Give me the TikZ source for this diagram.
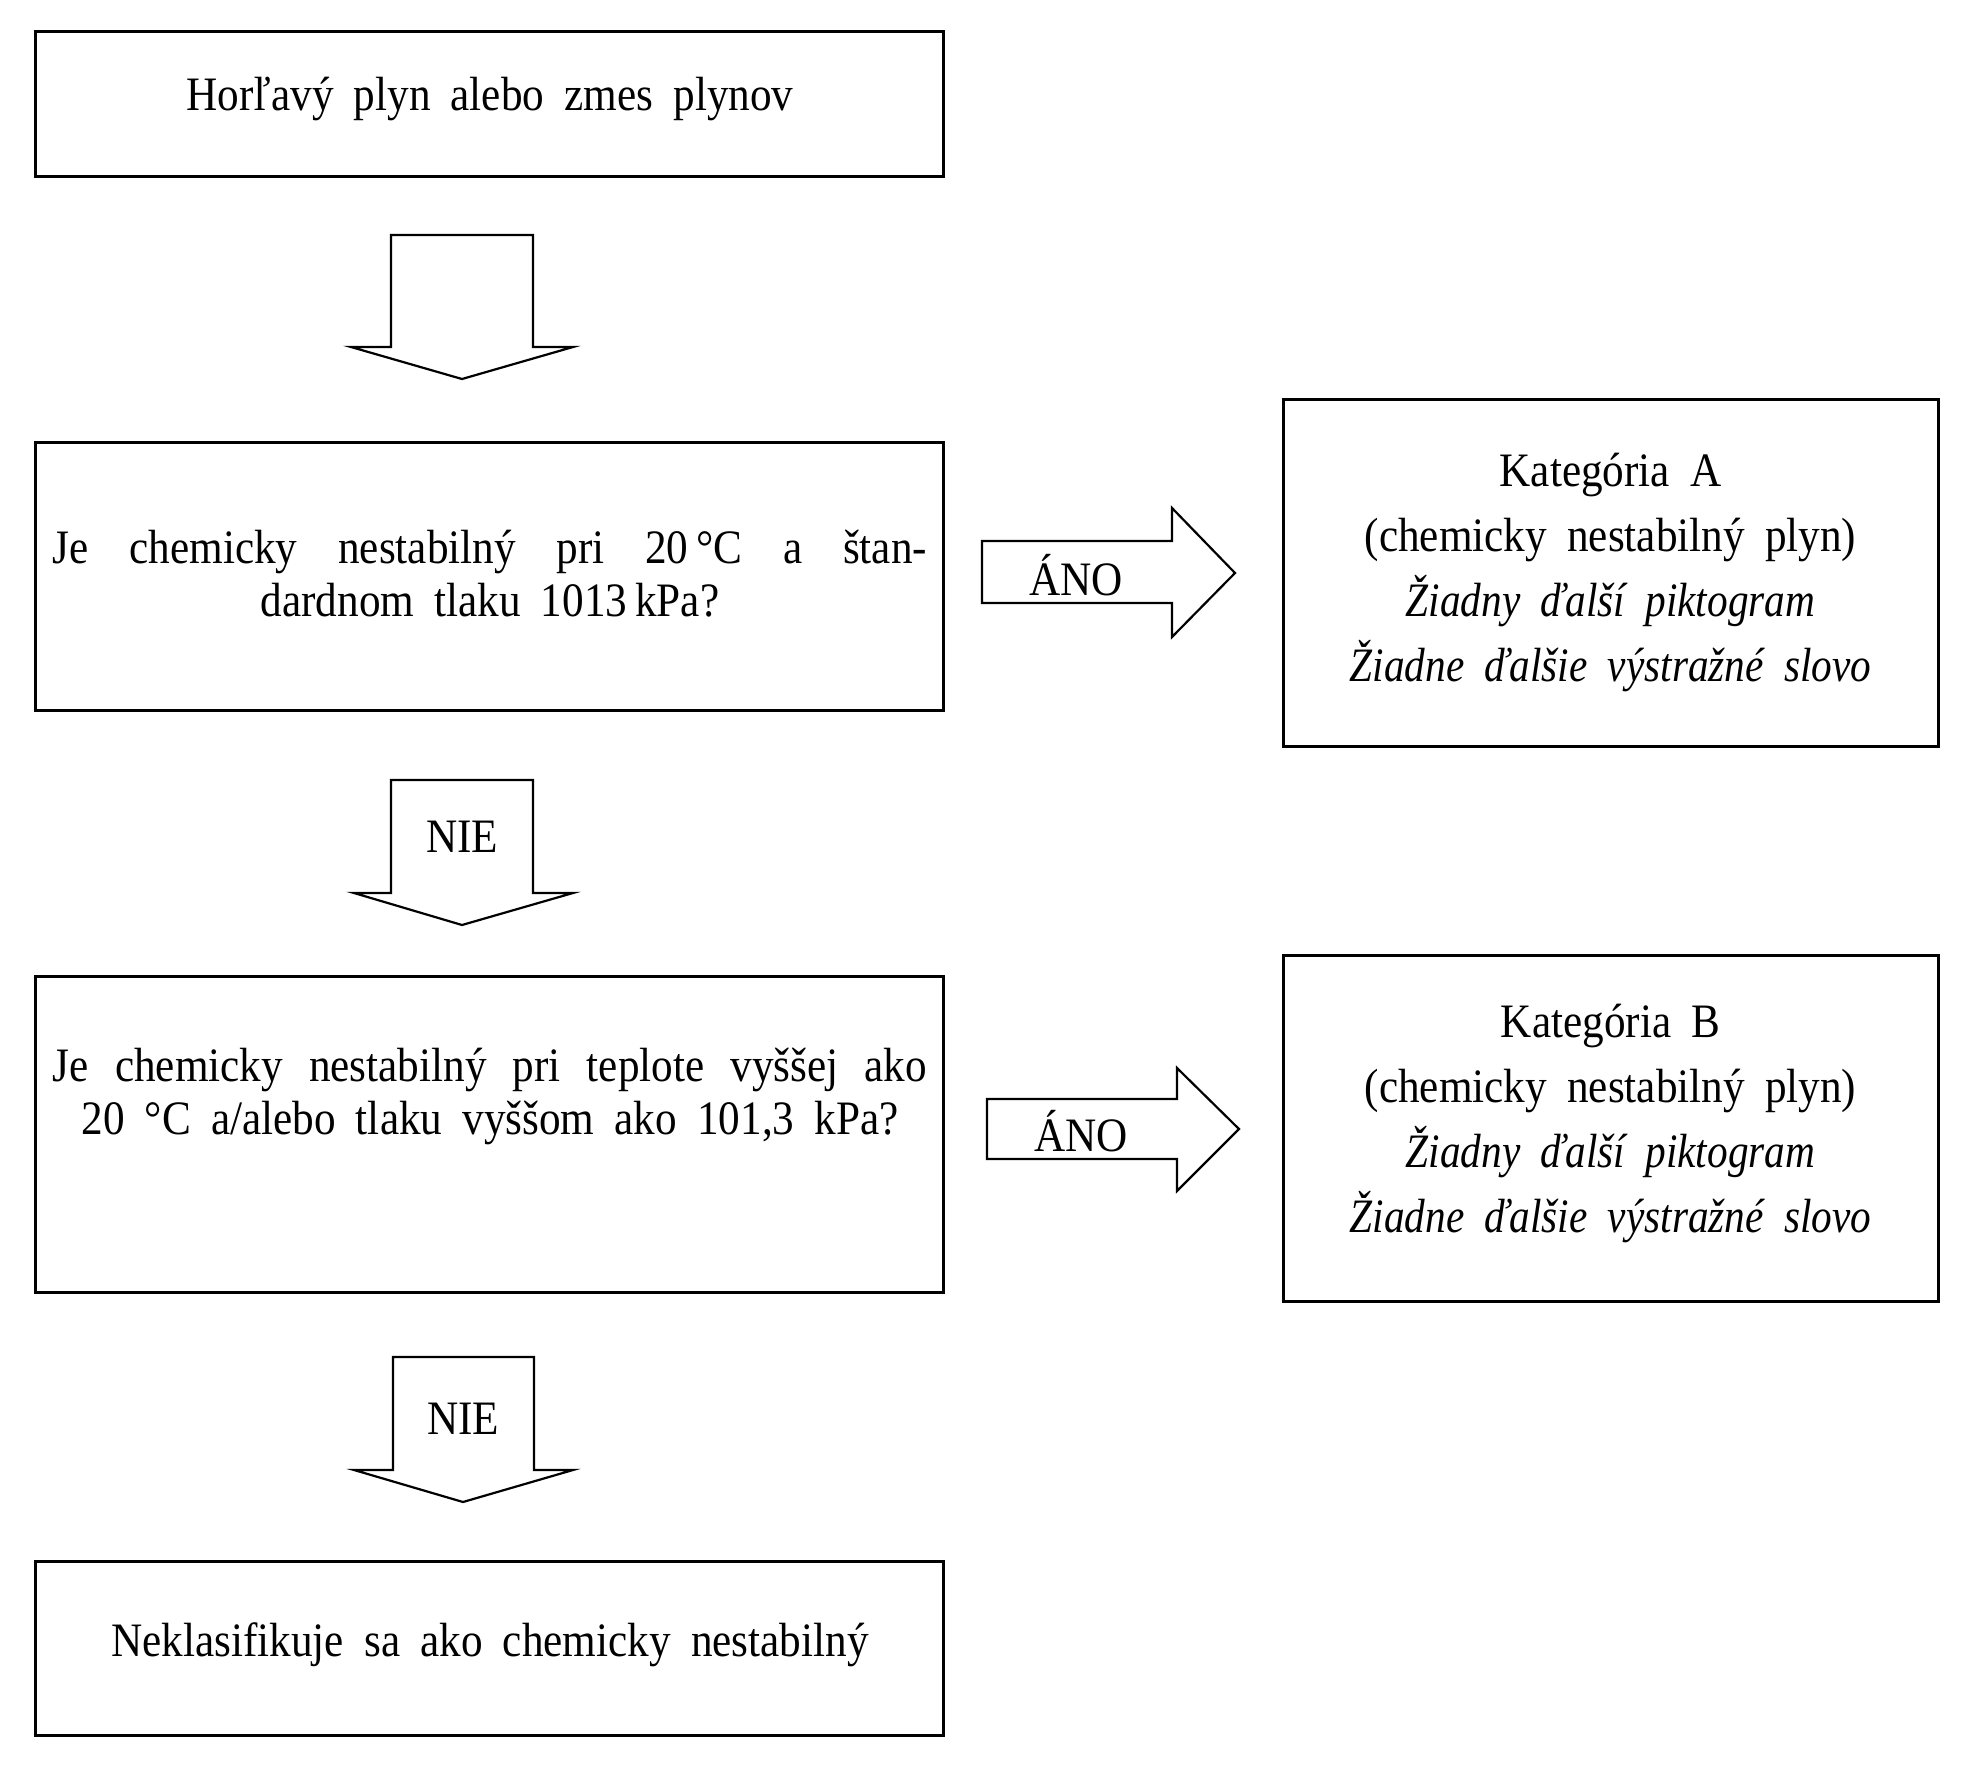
\documentclass[tikz,border=0pt]{standalone}
\usepackage{fontspec}
\setmainfont{Liberation Serif}[FakeStretch=0.9,ItalicFeatures={FakeStretch=0.86}]
\newcommand\mywordspace{\spaceskip=0.42em plus 0.2em\relax}
\begin{document}
\begin{tikzpicture}[x=0.5pt,y=-0.5pt,
  box/.style={draw,line width=1.5pt,inner sep=0pt},
  blockarrow/.style={draw,line width=1.1pt,line join=miter},
  txt/.style={font=\fontsize{24}{26.5}\selectfont\mywordspace,inner sep=0pt,align=center},
  cattxt/.style={font=\fontsize{24}{32.5}\selectfont\mywordspace,inner sep=0pt,align=center},
]
\useasboundingbox (0,0) rectangle (1967,1783);

% boxes
\node[box,minimum width=454pt,minimum height=72.5pt] (b1) at (489,103.5) {};
\node[box,minimum width=454pt,minimum height=134pt] (b2) at (489,576) {};
\node[box,minimum width=327.5pt,minimum height=173.5pt] (bA) at (1610.5,572.5) {};
\node[box,minimum width=454pt,minimum height=158pt] (b3) at (489,1134) {};
\node[box,minimum width=327.5pt,minimum height=173pt] (bB) at (1610.5,1128) {};
\node[box,minimum width=454pt,minimum height=87pt] (b4) at (489,1648) {};

% texts
\node[txt] (t1) at (490,99) {Horľavý plyn alebo zmes plynov};
\node[txt] (t2) at (490,574) {\makebox[437pt][s]{Je chemicky nestabilný pri 20\,°C a štan-}\\dardnom tlaku 1013\,kPa?};
\node[txt] (t3) at (490,1096) {\makebox[437pt][s]{Je chemicky nestabilný pri teplote vyššej ako}\\20 °C a/alebo tlaku vyššom ako 101,3 kPa?};
\node[cattxt] (tA) at (1610.5,572) {Kategória A\\(chemicky nestabilný plyn)\\\itshape\mywordspace Žiadny ďalší piktogram\\\itshape\mywordspace Žiadne ďalšie výstražné slovo};
\node[cattxt] (tB) at (1610.5,1123) {Kategória B\\(chemicky nestabilný plyn)\\\itshape\mywordspace Žiadny ďalší piktogram\\\itshape\mywordspace Žiadne ďalšie výstražné slovo};
\node[txt] (t4) at (490,1645) {Neklasifikuje sa ako chemicky nestabilný};

% down block arrows
\draw[blockarrow] (391,235) -- (533,235) -- (533,347) -- (573,347) -- (462,379) -- (351,347) -- (391,347) -- cycle;
\draw[blockarrow] (391,780) -- (533,780) -- (533,893) -- (573,893) -- (462,925) -- (354,893) -- (391,893) -- cycle;
\node[txt] (n1) at (462,837) {NIE};
\draw[blockarrow] (393,1357) -- (534,1357) -- (534,1470) -- (573,1470) -- (463,1502) -- (354,1470) -- (393,1470) -- cycle;
\node[txt] (n2) at (463,1419) {NIE};

% right block arrows
\draw[blockarrow] (982,541) -- (1172,541) -- (1172,508) -- (1235,573) -- (1172,637) -- (1172,603) -- (982,603) -- cycle;
\node[txt] (a1) at (1076,575) {ÁNO};
\draw[blockarrow] (987,1099) -- (1177,1099) -- (1177,1068) -- (1239,1129) -- (1177,1191) -- (1177,1159) -- (987,1159) -- cycle;
\node[txt] (a2) at (1081,1131) {ÁNO};
\end{tikzpicture}
\end{document}
